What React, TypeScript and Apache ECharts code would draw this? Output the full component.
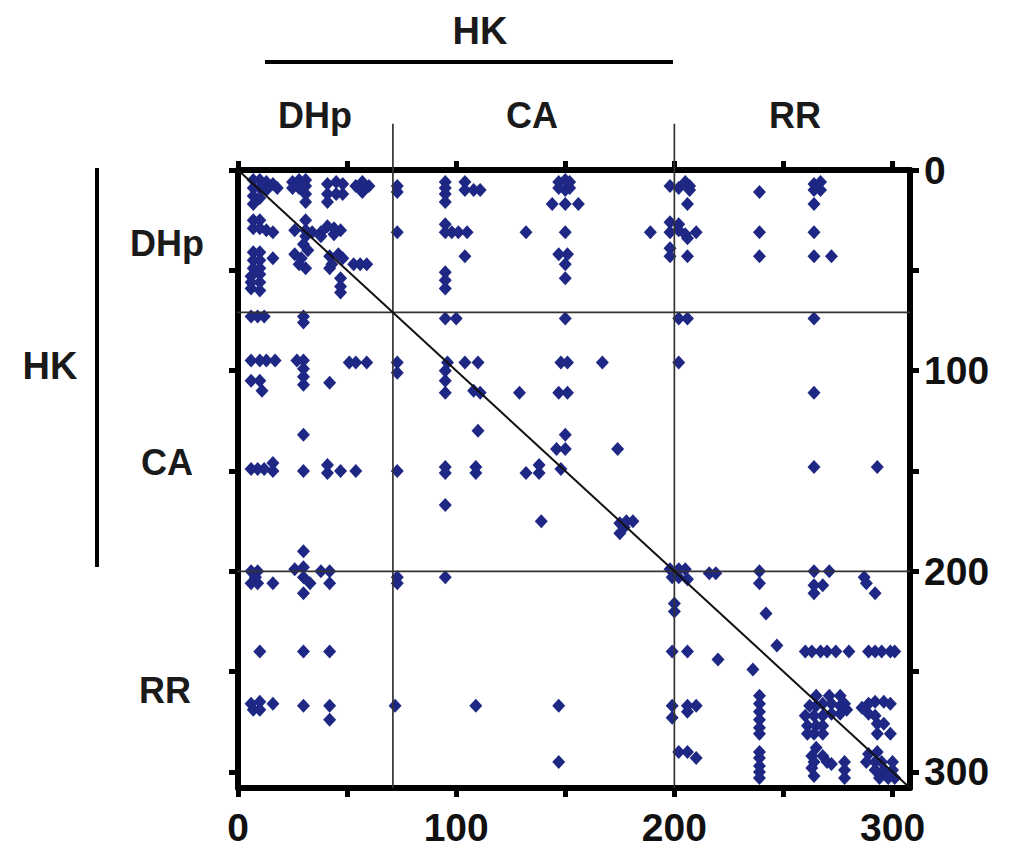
import React, { useEffect, useRef } from 'react';
import * as echarts from 'echarts';

const AXIS_MAX = 308;
const TICKS = [0, 50, 100, 150, 200, 250, 300];
const TICK_LABELS = [0, 100, 200, 300];
const DOMAIN_BOUNDS = [71, 200];
const DOMAIN_NAMES = ['DHp', 'CA', 'RR'];
const GROUP_NAME = 'HK';

// contacts [residue i (x), residue j (y)], grouped by y-domain / x-domain
const dhpDhp = [
  [7, 5], [10, 5], [13, 6], [16, 7], [18, 9], [7, 9], [10, 9], [13, 10], [7, 13], [10, 14], [7, 17],
  [25, 6], [28, 5], [31, 5], [25, 9], [28, 9], [31, 8], [31, 12], [31, 16],
  [41, 7], [45, 6], [48, 7], [41, 12], [45, 12], [48, 12], [41, 16],
  [54, 8], [57, 6], [60, 8], [57, 11],
  [7, 25], [10, 25], [7, 29], [10, 29], [13, 30], [16, 31],
  [31, 25], [26, 30], [31, 30], [34, 31], [31, 33],
  [38, 31], [41, 28], [44, 29], [47, 30], [38, 33], [44, 32],
  [7, 41], [10, 41], [16, 44], [7, 45], [10, 45], [7, 49], [10, 49],
  [30, 37], [32, 40], [26, 42], [29, 44], [28, 47], [31, 49],
  [42, 43], [46, 42], [48, 44], [43, 47], [42, 49],
  [53, 47], [56, 47], [59, 47],
  [6, 53], [10, 52], [6, 56], [10, 56], [6, 59], [10, 60],
  [47, 54], [47, 58], [47, 61],
];
const dhpCa = [
  [73, 8], [73, 11], [73, 31],
  [95, 6], [95, 9], [95, 12], [95, 16], [104, 6], [104, 10], [108, 10], [111, 10],
  [147, 6], [150, 5], [152, 6], [147, 9], [150, 10], [152, 9], [144, 17], [150, 17], [156, 17],
  [95, 27], [95, 31], [98, 31], [101, 31], [105, 31], [132, 31], [150, 31],
  [104, 43], [147, 42], [151, 42], [150, 47], [150, 54],
  [95, 51], [95, 55], [95, 59], [189, 31],
];
const dhpRr = [
  [198, 8], [202, 9], [205, 6], [207, 8], [207, 10], [206, 17],
  [198, 26], [202, 27], [198, 31], [202, 30], [205, 32], [210, 31], [206, 34],
  [198, 39], [198, 43], [206, 43],
  [239, 11], [264, 7], [267, 6], [264, 10], [267, 10], [264, 17],
  [239, 31], [264, 31], [239, 43], [264, 43], [272, 43],
];
const caDhp = [
  [6, 73], [9, 73], [12, 73], [30, 73], [30, 76],
  [6, 95], [10, 95], [13, 95], [17, 95], [6, 105], [10, 105], [11, 110],
  [27, 95], [30, 95], [30, 99], [30, 103], [30, 107], [42, 106],
  [51, 96], [54, 96], [59, 96],
  [30, 132],
  [6, 149], [9, 149], [12, 149], [16, 146], [16, 150], [30, 150], [41, 147], [41, 151], [47, 150], [54, 150],
  [30, 190],
];
const caCa = [
  [73, 96], [73, 101], [73, 150],
  [95, 74], [100, 74], [150, 74],
  [96, 96], [104, 96], [110, 96], [148, 96], [151, 96], [167, 96],
  [95, 100], [95, 105], [95, 111], [108, 110], [111, 111], [129, 111], [147, 111], [151, 111],
  [110, 130], [150, 132], [146, 139], [150, 139], [174, 139],
  [95, 148], [95, 151], [109, 148], [109, 151], [132, 151], [138, 147], [138, 151], [148, 149],
  [95, 167], [139, 175],
  [175, 176], [178, 175], [181, 175], [175, 181], [177, 178],
];
const caRr = [
  [202, 74], [206, 74], [264, 74], [202, 96], [264, 111], [264, 148], [293, 148],
];
const rrDhp = [
  [6, 200], [9, 200], [8, 203], [6, 206], [9, 206], [16, 206],
  [26, 199], [30, 198], [30, 203], [33, 206], [30, 211], [38, 200], [42, 200], [42, 206],
  [10, 240], [30, 240], [42, 240],
  [6, 266], [10, 265], [7, 269], [10, 269], [16, 266], [30, 267], [42, 267], [42, 274],
];
const rrCa = [
  [73, 203], [73, 206], [95, 203], [72, 267], [109, 267], [147, 267], [147, 295],
];
const rrRr = [
  [198, 199], [202, 199], [205, 199], [199, 203], [202, 203], [206, 204], [216, 201], [219, 201],
  [200, 216], [200, 220], [199, 240], [206, 240], [220, 244], [236, 249], [242, 221], [247, 237],
  [199, 267], [206, 267], [210, 267], [206, 270], [199, 273], [202, 290], [206, 290], [210, 293],
  [239, 200], [239, 206], [264, 200], [271, 200], [264, 207], [268, 207], [264, 211],
  [287, 203], [288, 206], [292, 211],
  [260, 240], [263, 240], [267, 240], [270, 240], [274, 240], [280, 240],
  [289, 240], [292, 240], [295, 240], [299, 240], [301, 240],
  [239, 262], [239, 266], [239, 270], [239, 274], [239, 278], [239, 281],
  [239, 290], [239, 293], [239, 297], [239, 300], [239, 303],
  [265, 262], [271, 262], [276, 262], [278, 266], [262, 267], [265, 267], [268, 266], [272, 266],
  [276, 267], [279, 269], [260, 272], [264, 272], [268, 272], [272, 271], [276, 271],
  [261, 277], [265, 277], [268, 277], [261, 281], [264, 281], [268, 281],
  [289, 266], [292, 265], [296, 265], [299, 266], [286, 268], [289, 271], [292, 272],
  [293, 276], [296, 276], [293, 281], [299, 281],
  [265, 288], [263, 292], [264, 295], [263, 298], [264, 302], [268, 292], [270, 295], [272, 296],
  [278, 295], [278, 299], [278, 303],
  [289, 291], [293, 290], [288, 295], [292, 295], [295, 295], [300, 295],
  [292, 299], [296, 299], [300, 299], [294, 303], [298, 303], [301, 303],
];

const FONT = '"Liberation Sans", Arial, Helvetica, sans-serif';

export default function App() {
  const ref = useRef<HTMLDivElement>(null);
  useEffect(() => {
    if (!ref.current) return;
    const chart = echarts.init(ref.current, undefined, { renderer: 'svg' });
    const points = [
      ...dhpDhp, ...dhpCa, ...dhpRr,
      ...caDhp, ...caCa, ...caRr,
      ...rrDhp, ...rrCa, ...rrRr,
    ];
    const axisCommon = {
      type: 'value' as const,
      min: 0,
      max: AXIS_MAX,
      splitLine: { show: false },
      axisLine: { show: true, onZero: false, lineStyle: { color: '#000', width: 6 } },
      axisTick: { show: true, customValues: TICKS, length: 9, lineStyle: { color: '#000', width: 5 } },
    };
    const labelStyle = {
      customValues: TICK_LABELS,
      color: '#111',
      fontSize: 39,
      fontWeight: 'bold' as const,
      fontFamily: FONT,
    };
    const lineSeries = (data: number[][], color: string, width: number) => ({
      type: 'line' as const,
      data,
      clip: false,
      symbol: 'none',
      z: 5,
      silent: true,
      lineStyle: { color, width },
    });
    const ext = -23;
    const series: any[] = [
      {
        type: 'scatter',
        data: points,
        symbol: 'diamond',
        symbolSize: [13, 14],
        itemStyle: { color: '#1f2785', opacity: 1 },
        z: 3,
      },
      ...DOMAIN_BOUNDS.map((b) => lineSeries([[b, ext], [b, AXIS_MAX]], '#333', 1.7)),
      ...DOMAIN_BOUNDS.map((b) => lineSeries([[-24, b], [AXIS_MAX, b]], '#333', 1.7)),
      lineSeries([[0, 0], [AXIS_MAX, AXIS_MAX]], '#111', 2),
    ];
    const txt = (s: string, x: number, y: number, size: number) => ({
      type: 'text',
      x,
      y,
      style: {
        text: s,
        fill: '#1a1a1a',
        font: `bold ${size}px ${FONT}`,
        align: 'center',
        verticalAlign: 'middle',
      },
    });
    chart.setOption({
      animation: false,
      backgroundColor: '#fff',
      grid: { left: 238, top: 170, width: 672, height: 618, containLabel: false },
      xAxis: [
        { ...axisCommon, position: 'bottom', axisLabel: { ...labelStyle, margin: 20 } },
        { ...axisCommon, position: 'top', axisLabel: { show: false } },
      ],
      yAxis: [
        { ...axisCommon, inverse: true, position: 'left', axisLabel: { show: false } },
        { ...axisCommon, inverse: true, position: 'right', axisLabel: { ...labelStyle, margin: 14 } },
      ],
      series,
      graphic: [
        txt(GROUP_NAME, 480, 31, 38),
        { type: 'line', shape: { x1: 265, y1: 62, x2: 673, y2: 62 }, style: { stroke: '#000', lineWidth: 4 } },
        txt(DOMAIN_NAMES[0], 315, 115, 36),
        txt(DOMAIN_NAMES[1], 532, 115, 36),
        txt(DOMAIN_NAMES[2], 795, 115, 36),
        txt(GROUP_NAME, 50, 366, 38),
        { type: 'line', shape: { x1: 97, y1: 168, x2: 97, y2: 567 }, style: { stroke: '#000', lineWidth: 4 } },
        txt(DOMAIN_NAMES[0], 167, 243, 36),
        txt(DOMAIN_NAMES[1], 167, 462, 36),
        txt(DOMAIN_NAMES[2], 165, 690, 36),
      ],
    });
    return () => chart.dispose();
  }, []);
  return (
    <div
      ref={ref}
      style={{ position: 'fixed', left: 0, top: 0, width: 1027, height: 861, background: '#fff' }}
    />
  );
}
